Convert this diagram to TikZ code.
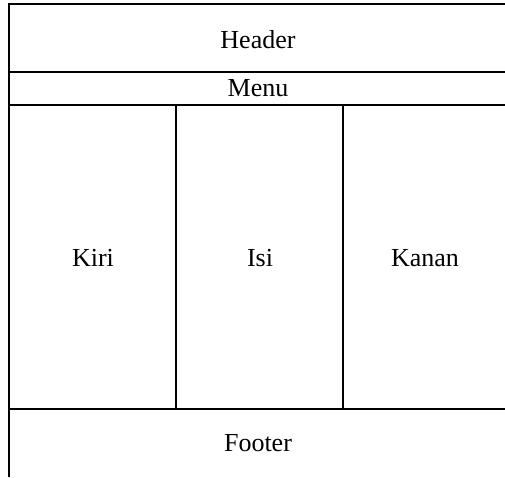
\documentclass[tikz,border=0pt]{standalone}
\usepackage{fontspec}
\setmainfont{Liberation Serif}
\usepackage{tikz}
\tikzstyle{lbl} = [font=\fontsize{26}{30}\selectfont, inner sep=0pt, align=center]
\tikzstyle{garis} = [draw=black, line width=2pt]

\begin{document}
\begin{tikzpicture}[x=1pt,y=-1pt]
\useasboundingbox (0,0) rectangle (505,477);
% frame of the layout
\coordinate (tl) at (9,4);
\coordinate (tr) at (505,4);
\coordinate (bl) at (9,477);
\draw [garis] (bl) -- (tl) -- (tr);
\draw [garis] (9,72) -- (505,72);
\draw [garis] (9,105) -- (505,105);
\draw [garis] (9,409) -- (505,409);
\draw [garis] (176,105) -- (176,409);
\draw [garis] (343,105) -- (343,409);
% labels
\node [lbl] (header) at (258,40) {Header};
\node [lbl] (menu) at (258,88) {Menu};
\node [lbl] (kiri) at (93,258) {Kiri};
\node [lbl] (isi) at (260,258) {Isi};
\node [lbl] (kanan) at (425,258) {Kanan};
\node [lbl] (footer) at (258,443) {Footer};
\end{tikzpicture}
\end{document}
